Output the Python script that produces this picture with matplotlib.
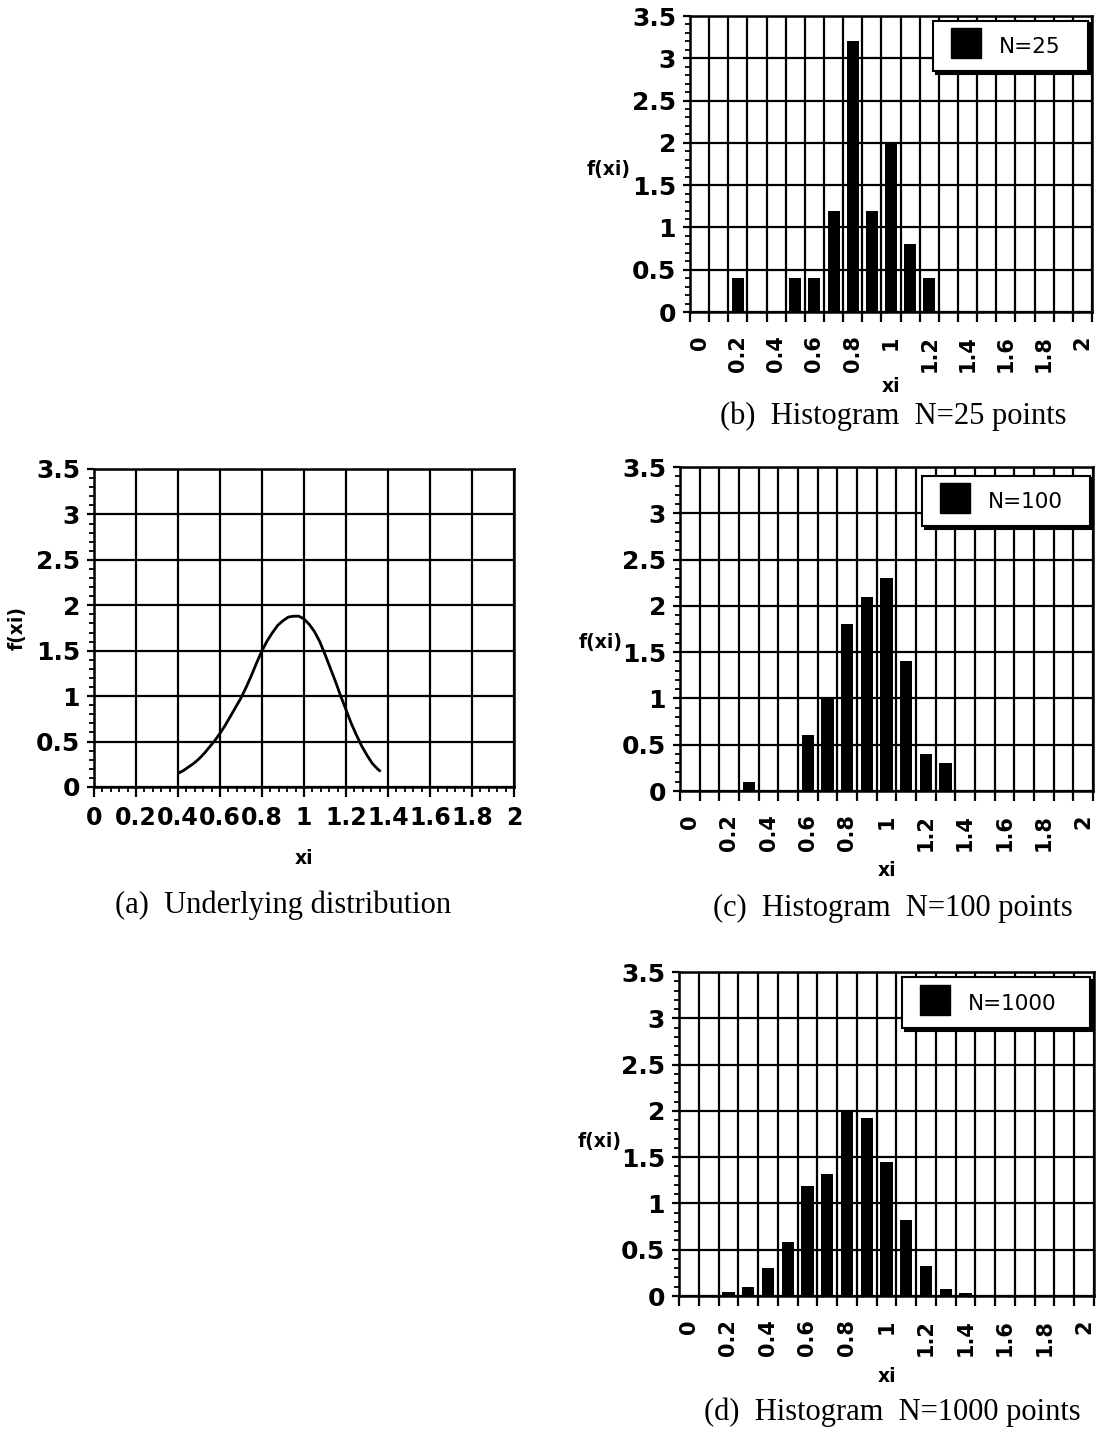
import numpy as np
import matplotlib
matplotlib.use("Agg")
import matplotlib.pyplot as plt
from matplotlib.lines import Line2D
from matplotlib.ticker import MultipleLocator, FuncFormatter

# ---------------- data ----------------
categories = [0.0, 0.1, 0.2, 0.3, 0.4, 0.5, 0.6, 0.7, 0.8, 0.9, 1.0,
              1.1, 1.2, 1.3, 1.4, 1.5, 1.6, 1.7, 1.8, 1.9, 2.0]
cat_labels = ["0", "0.2", "0.4", "0.6", "0.8", "1", "1.2", "1.4", "1.6", "1.8", "2"]

hist_n25 = [0, 0, 0.4, 0, 0, 0.4, 0.4, 1.2, 3.2, 1.2, 2.0, 0.8, 0.4,
            0, 0, 0, 0, 0, 0, 0, 0]
hist_n100 = [0, 0, 0, 0.1, 0, 0, 0.6, 1.0, 1.8, 2.1, 2.3, 1.4, 0.4, 0.3,
             0, 0, 0, 0, 0, 0, 0]
hist_n1000 = [0.01, 0.01, 0.04, 0.1, 0.3, 0.58, 1.19, 1.32, 2.0, 1.92, 1.45,
              0.82, 0.32, 0.08, 0.03, 0, 0, 0, 0, 0, 0]

dist_x = [0.400, 0.425, 0.450, 0.475, 0.500, 0.525, 0.550, 0.575, 0.600, 0.625,
          0.650, 0.675, 0.700, 0.725, 0.750, 0.775, 0.800, 0.825, 0.850, 0.875,
          0.900, 0.925, 0.950, 0.975, 1.000, 1.025, 1.050, 1.075, 1.100, 1.125,
          1.150, 1.175, 1.200, 1.225, 1.250, 1.275, 1.300, 1.325, 1.350, 1.365]
dist_y = [0.15, 0.18, 0.22, 0.26, 0.31, 0.37, 0.44, 0.51, 0.59, 0.68,
          0.78, 0.88, 0.98, 1.10, 1.23, 1.37, 1.50, 1.61, 1.70, 1.78,
          1.83, 1.87, 1.88, 1.88, 1.85, 1.79, 1.71, 1.60, 1.46, 1.31,
          1.16, 1.00, 0.85, 0.70, 0.57, 0.45, 0.35, 0.26, 0.20, 0.17]

# ---------------- layout ----------------
W, H = 1100, 1431
fig = plt.figure(figsize=(W / 100, H / 100), dpi=100)
fig.patch.set_facecolor("white")

SANS_B = dict(family="DejaVu Sans", weight="bold")
SERIF = dict(family="Liberation Serif")


def rect(l, t, r, b):
    return [l / W, 1 - b / H, (r - l) / W, (b - t) / H]


def ftext(x, y, s, **kw):
    fig.text(x / W, 1 - y / H, s, **kw)


def style_common(ax):
    for sp in ax.spines.values():
        sp.set_linewidth(1.8)
        sp.set_color("black")
    ax.set_ylim(0, 3.5)
    ax.yaxis.set_major_locator(MultipleLocator(0.5))
    ax.yaxis.set_minor_locator(MultipleLocator(0.1))
    ax.yaxis.set_major_formatter(FuncFormatter(lambda v, p: f"{v:g}"))
    ax.tick_params(axis="y", which="major", direction="out", length=5,
                   width=1.6, pad=5, labelsize=18)
    ax.tick_params(axis="y", which="minor", direction="out", length=3.5,
                   width=1.3)
    for lab in ax.get_yticklabels():
        lab.set_fontweight("bold")
        lab.set_family("DejaVu Sans")
    ax.grid(True, which="major", color="black", linewidth=1.6)
    ax.set_axisbelow(True)


def hist_panel(box, values, legend_label, leg_box, ylab_xy, xi_xy, cap_xy, caption):
    ax = fig.add_axes(rect(*box))
    idx = np.arange(len(categories))
    ax.bar(idx, values, width=0.62, color="black", zorder=3)
    ax.set_xlim(-0.5, len(categories) - 0.5)
    ax.set_xticks(np.arange(-0.5, len(categories), 1.0))
    ax.set_xticklabels([])
    ax.set_xticks(idx[::2], minor=True)
    ax.set_xticklabels(cat_labels, minor=True, rotation=90,
                       fontsize=15, fontweight="bold", family="DejaVu Sans")
    ax.tick_params(axis="x", which="major", direction="out", length=7.5,
                   width=1.6)
    ax.tick_params(axis="x", which="minor", length=0, pad=17)
    style_common(ax)
    ax.grid(True, which="major", axis="x", color="black", linewidth=1.6)
    ax.grid(False, which="minor")

    l, t, r, b = leg_box
    bx0 = (l - box[0]) / (box[2] - box[0])
    bw = (r - l) / (box[2] - box[0])
    by0 = (box[3] - b) / (box[3] - box[1])
    bh = (b - t) / (box[3] - box[1])
    handle = Line2D([], [], marker="s", ms=21, color="black", ls="none")
    leg = ax.legend([handle], [legend_label], loc="center left",
                    bbox_to_anchor=(bx0, by0, bw, bh), mode="expand",
                    borderaxespad=0, fontsize=15.5, handlelength=1.85,
                    handleheight=1.4, handletextpad=0.6, borderpad=0.6,
                    fancybox=False, framealpha=1, edgecolor="black",
                    shadow={"color": "black", "alpha": 1})
    leg.get_frame().set_linewidth(1.5)
    for txt in leg.get_texts():
        txt.set_family("DejaVu Sans")

    ftext(*ylab_xy, "f(xi)", ha="center", va="center", fontsize=13.5, **SANS_B)
    ftext(*xi_xy, "xi", ha="center", va="center", fontsize=13.5, **SANS_B)
    ftext(*cap_xy, caption, ha="center", va="center", fontsize=22, **SERIF)
    return ax


# ---------------- panel (a) ----------------
axa = fig.add_axes(rect(94, 469, 514, 787))
axa.plot(dist_x, dist_y, color="black", linewidth=2.0,
         solid_joinstyle="round", solid_capstyle="butt", zorder=3)
axa.set_xlim(0, 2)
axa.xaxis.set_major_locator(MultipleLocator(0.2))
axa.xaxis.set_minor_locator(MultipleLocator(0.04))
axa.xaxis.set_major_formatter(FuncFormatter(lambda v, p: f"{v:g}"))
axa.tick_params(axis="x", which="major", direction="out", length=7.5,
                width=1.6, pad=6, labelsize=17)
axa.tick_params(axis="x", which="minor", direction="out", length=3.5,
                width=1.3)
for lab in axa.get_xticklabels():
    lab.set_fontweight("bold")
    lab.set_family("DejaVu Sans")
style_common(axa)
ftext(17, 628, "f(xi)", ha="center", va="center", rotation=90,
      fontsize=13.5, **SANS_B)
ftext(304, 859, "xi", ha="center", va="center", fontsize=13.5, **SANS_B)
ftext(283, 905, "(a)  Underlying distribution", ha="center", va="center",
      fontsize=22, **SERIF)

# ---------------- panels (b), (c), (d) ----------------
hist_panel((690, 16, 1092, 312), hist_n25, "N=25", (933, 19, 1088, 73),
           (609, 170), (891, 387), (893, 416), "(b)  Histogram  N=25 points")
hist_panel((680, 467, 1093, 791), hist_n100, "N=100", (922, 475, 1090, 527),
           (601, 642), (887, 871), (893, 908), "(c)  Histogram  N=100 points")
hist_panel((679, 972, 1094, 1296), hist_n1000, "N=1000", (902, 976, 1090, 1029),
           (600, 1141), (887, 1377), (892, 1412), "(d)  Histogram  N=1000 points")

fig.savefig("out.png", dpi=100, facecolor="white")
